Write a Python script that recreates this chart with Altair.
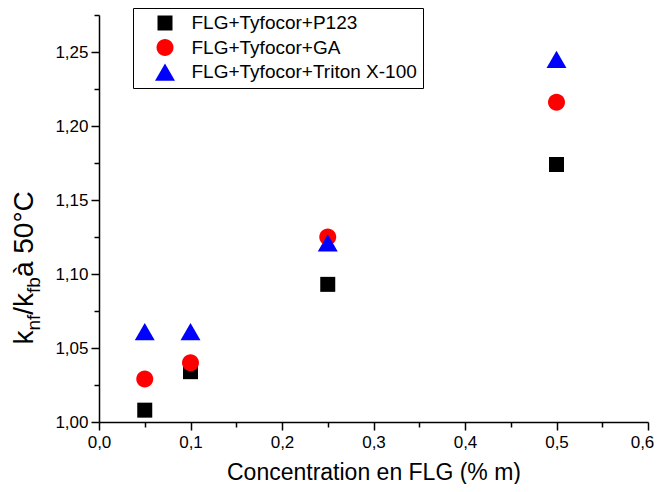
import altair as alt
import pandas as pd

# ---- data ----
concentration = [0.05, 0.1, 0.25, 0.5]
series_names = ["FLG+Tyfocor+P123", "FLG+Tyfocor+GA", "FLG+Tyfocor+Triton X-100"]
p123 = [1.008, 1.034, 1.093, 1.174]
ga = [1.029, 1.040, 1.125, 1.216]
triton = [1.061, 1.061, 1.121, 1.245]
series_values = [p123, ga, triton]

x_ticks = [round(i * 0.05, 2) for i in range(13)]          # majors every 0.1
y_ticks = [round(1.0 + i * 0.025, 3) for i in range(12)]   # majors every 0.05

rows = []
for idx, (name, vals) in enumerate(zip(series_names, series_values)):
    for c, v in zip(concentration, vals):
        rows.append({"c": c, "k": v, "serie": name, "ordre": idx})
df = pd.DataFrame(rows)

W, H = 549, 407
FONT = "Liberation Sans"

# symbol shapes (unit paths, scaled by the mark size)
SQUARE = "square"
CIRCLE = "M1.13,0A1.13,1.13,0,1,1,-1.13,0A1.13,1.13,0,1,1,1.13,0Z"
TRIANGLE = "M0,-1.15L1.33,1.15L-1.33,1.15Z"

x_axis = alt.Axis(
    values=x_ticks,
    labelExpr="round(datum.value*100) % 10 == 0 ? replace(format(datum.value, '.1f'), '.', ',') : ''",
    tickSize={"condition": {"test": "round(datum.value*100) % 10 == 0", "value": 8}, "value": 5},
    labelOffset={"condition": {"test": "datum.value > 0.59", "value": -6}, "value": 0},
    title="Concentration en FLG (% m)",
    titleFontSize=23, titleFont=FONT, titleFontWeight="normal", titleColor="black",
    titlePadding=11,
    labelFontSize=17, labelFont=FONT, labelColor="black", labelPadding=4,
    labelOverlap=False, labelFlush=False,
    domainColor="black", domainWidth=1.5, tickColor="black", tickWidth=1.5, grid=False,
)
y_axis = alt.Axis(
    values=y_ticks,
    labelExpr="round(datum.value*1000) % 50 == 0 ? replace(format(datum.value, '.2f'), '.', ',') : ''",
    tickSize={"condition": {"test": "round(datum.value*1000) % 50 == 0", "value": 8}, "value": 5},
    title=None,
    labelFontSize=17, labelFont=FONT, labelColor="black", labelPadding=3,
    labelOverlap=False, labelFlush=False,
    domainColor="black", domainWidth=1.5, tickColor="black", tickWidth=1.5, grid=False,
)

points = alt.Chart(df).mark_point(filled=True, opacity=1, strokeWidth=0, size=225).encode(
    x=alt.X("c:Q", scale=alt.Scale(domain=[0, 0.6], nice=False, zero=False), axis=x_axis),
    y=alt.Y("k:Q", scale=alt.Scale(domain=[1.0, 1.275], nice=False, zero=False), axis=y_axis),
    color=alt.Color("serie:N", scale=alt.Scale(domain=series_names, range=["#000000", "#ff0000", "#0000ff"]),
                    legend=alt.Legend(title=None)),
    shape=alt.Shape("serie:N", scale=alt.Scale(domain=series_names, range=[SQUARE, CIRCLE, TRIANGLE]),
                    legend=alt.Legend(title=None)),
    order=alt.Order("ordre:Q"),
)

# ---- y title with subscripts: k_nf / k_fb à 50°C ----
MAIN, SUB = 28, 19
adv = {"k": 0.5, "n": 0.556, "f": 0.278, "/": 0.278, "b": 0.556, " ": 0.278,
       "à": 0.556, "5": 0.556, "0": 0.556, "°": 0.4, "C": 0.722}
pieces = [("k", MAIN), ("nf", SUB), ("/k", MAIN), ("fb", SUB), (" à 50°C", MAIN)]
total = sum(sum(adv.get(ch, 0.55) for ch in t) * fs for t, fs in pieces)
centre_y = 249.0
base_x = -66.0
layers = [points]
pos = centre_y + total / 2
for txt, fs in pieces:
    w = sum(adv.get(ch, 0.55) for ch in txt) * fs
    xx = base_x + (7 if fs == SUB else 0)
    layers.append(
        alt.Chart(pd.DataFrame({"t": [txt]})).mark_text(
            angle=270, align="left", baseline="alphabetic", font=FONT, fontSize=fs, color="black"
        ).encode(text="t:N", x=alt.value(xx), y=alt.value(pos))
    )
    pos -= w

chart = alt.layer(*layers).properties(
    width=W, height=H,
    autosize=alt.AutoSizeParams(type="none"),
    padding={"left": 91, "top": 7, "right": 6, "bottom": 62},
).configure_view(stroke=None).configure_legend(
    orient="none", legendX=34, legendY=-7,
    strokeColor="black", strokeWidth=1, fillColor="white", padding=5.5,
    labelFontSize=19, labelFont=FONT, labelColor="black", labelLimit=500,
    symbolSize=225, symbolOffset=17, labelOffset=17, rowPadding=4.5, symbolStrokeWidth=0,
)

chart.save("out.html", embed_options={"renderer": "svg", "actions": False})
